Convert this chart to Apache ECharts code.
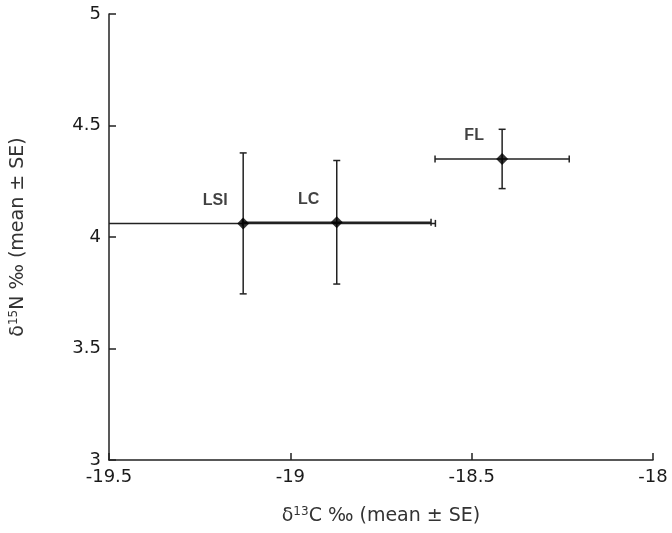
<!DOCTYPE html>
<html>
<head>
<meta charset="utf-8">
<script src="https://cdn.jsdelivr.net/npm/echarts@6/dist/echarts.min.js"></script>
<style>
    html, body { margin: 0; padding: 0; background: #fff; }
    #Chart { width: 672px; height: 533px; }
</style>
</head>
<body>
<div id="Chart"></div>
<script>
// 站点名称及均值 ± SE
const SiteNames = ['LSI', 'LC', 'FL']
const C13Mean = [-19.13, -18.872, -18.416]
const C13SE = [0.53, 0.26, 0.185]
const N15Mean = [4.061, 4.066, 4.35]
const N15SE = [0.316, 0.277, 0.133]

const XTicks = [-19.5, -19, -18.5, -18]
const YTicks = [3, 3.5, 4, 4.5, 5]

const LineColor = '#222'
const FontName = '"DejaVu Sans", Verdana, sans-serif'
const LabelFont = '"Liberation Sans", Arial, sans-serif'

let ErrorData = SiteNames.map((n, i) => [C13Mean[i], N15Mean[i], C13SE[i], N15SE[i]])
let PointData = SiteNames.map((n, i) => ({ name: n, value: [C13Mean[i], N15Mean[i]] }))

function RenderErrorBar(params, api) {
    let x = api.value(0), y = api.value(1), xe = api.value(2), ye = api.value(3)
    let left = api.coord([x - xe, y])
    let right = api.coord([x + xe, y])
    let top = api.coord([x, y + ye])
    let bottom = api.coord([x, y - ye])
    let cap = 3.5
    let style = { stroke: LineColor, lineWidth: 1.5 }
    let line = (x1, y1, x2, y2) => ({ type: 'line', shape: { x1, y1, x2, y2 }, style })
    return {
        type: 'group',
        children: [
            line(left[0], left[1], right[0], right[1]),
            line(left[0], left[1] - cap, left[0], left[1] + cap),
            line(right[0], right[1] - cap, right[0], right[1] + cap),
            line(top[0], top[1], bottom[0], bottom[1]),
            line(top[0] - cap, top[1], top[0] + cap, top[1]),
            line(bottom[0] - cap, bottom[1], bottom[0] + cap, bottom[1])
        ]
    }
}

let AxisCommon = {
    interval: 0.5,
    splitLine: { show: false },
    axisLine: { show: true, onZero: false, lineStyle: { color: LineColor, width: 1.5 } },
    axisTick: { show: true, inside: true, length: 7, lineStyle: { color: LineColor, width: 1.5 } },
    axisLabel: { color: '#1a1a1a', fontSize: 18, fontFamily: FontName, margin: 8 },
    nameLocation: 'middle',
    nameTextStyle: {
        color: '#333', fontSize: 19, fontFamily: FontName,
        rich: {
            n: { fontSize: 19, fontFamily: FontName, color: '#333' },
            sup: { fontSize: 12, fontFamily: FontName, color: '#333', padding: [0, 0, 9, 0] }
        }
    }
}

let Chart = echarts.init(document.getElementById('Chart'))
Chart.setOption({
    animation: false,
    backgroundColor: '#fff',
    grid: { left: 107, right: 19, top: 14, bottom: 73 },
    xAxis: Object.assign({}, AxisCommon, {
        type: 'value',
        min: XTicks[0],
        max: XTicks[XTicks.length - 1],
        name: '{n|δ}{sup|13}{n|C ‰ (mean ± SE)}',
        nameGap: 46
    }),
    yAxis: Object.assign({}, AxisCommon, {
        type: 'value',
        min: YTicks[0],
        max: YTicks[YTicks.length - 1],
        name: '{n|δ}{sup|15}{n|N ‰ (mean ± SE)}',
        nameGap: 80
    }),
    series: [
        {
            type: 'custom',
            clip: true,
            renderItem: RenderErrorBar,
            data: ErrorData,
            z: 2
        },
        {
            type: 'scatter',
            symbol: 'diamond',
            symbolSize: 12,
            itemStyle: { color: '#000' },
            label: {
                show: true,
                position: 'inside',
                offset: [-28, -23],
                formatter: '{b}',
                color: '#111',
                fontSize: 16,
                fontWeight: 'bold',
                fontFamily: LabelFont
            },
            data: PointData,
            z: 3
        }
    ]
})
</script>
</body>
</html>
